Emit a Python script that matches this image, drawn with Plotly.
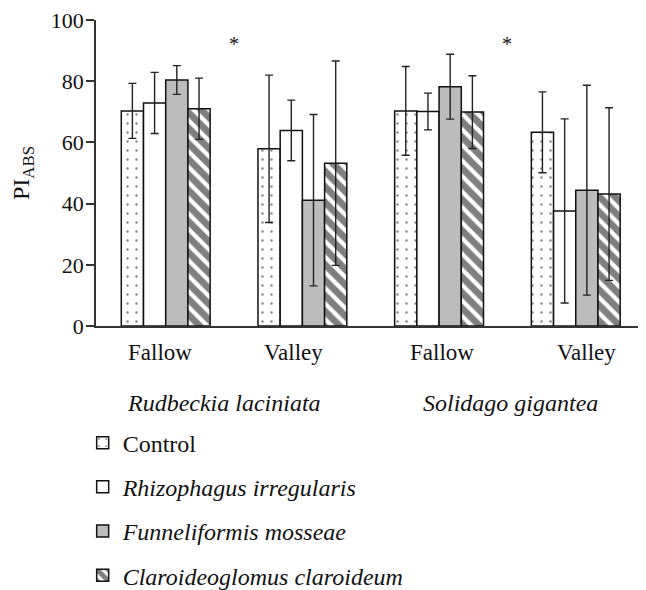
import plotly.graph_objects as go

# ---- data ----
sites = ["Fallow", "Valley", "Fallow", "Valley"]
species = ["Rudbeckia laciniata", "Solidago gigantea"]
series_names = ["Control", "Rhizophagus irregularis", "Funneliformis mosseae", "Claroideoglomus claroideum"]

control = [70.3, 57.9, 70.3, 63.3]
control_err = [9.0, 24.1, 14.5, 13.2]
rhizo = [72.9, 63.9, 70.1, 37.6]
rhizo_err = [10.0, 9.9, 6.0, 30.1]
funnel = [80.4, 41.1, 78.2, 44.4]
funnel_err = [4.7, 28.0, 10.6, 34.3]
claro = [71.0, 53.2, 69.9, 43.1]
claro_err = [10.0, 33.4, 11.9, 28.2]

y_ticks = [0, 20, 40, 60, 80, 100]
asterisk_pos = [0.5, 2.5]
asterisk_y = 92

x = list(range(len(sites)))
FONT = "Liberation Serif, Times New Roman, serif"

styles = [
    dict(marker=dict(color="white", line=dict(color="#111", width=1.5),
                     pattern=dict(shape=".", fgcolor="#111", bgcolor="white", size=9, solidity=0.06))),
    dict(marker=dict(color="white", line=dict(color="#111", width=1.5))),
    dict(marker=dict(color="#bcbcbc", line=dict(color="#111", width=1.5))),
    dict(marker=dict(color="white", line=dict(color="#111", width=1.5),
                     pattern=dict(shape="\\", fgcolor="#000", bgcolor="white", size=11, solidity=0.62))),
]
values = [control, rhizo, funnel, claro]
errors = [control_err, rhizo_err, funnel_err, claro_err]

fig = go.Figure()
for i, (name, v, e, st) in enumerate(zip(series_names, values, errors, styles)):
    label = name if i == 0 else "<i>" + name + "</i>"
    fig.add_trace(go.Bar(
        x=x, y=v, name=label, legendgroup=f"g{i}",
        error_y=dict(type="data", array=e, visible=True, color="#222", thickness=1.4, width=4),
        **st,
    ))

annotations = []
for xi, s in zip(x, sites):
    annotations.append(dict(x=xi, y=-0.085, xref="x", yref="paper", text=s, showarrow=False,
                            font=dict(family=FONT, size=23, color="#111"), yanchor="middle",
                            xshift=[-6, -9, 3, 11][xi]))
for k, sp in enumerate(species):
    annotations.append(dict(x=0.5 + 2 * k, y=-0.252, xref="x", yref="paper", text="<i>" + sp + "</i>",
                            showarrow=False, font=dict(family=FONT, size=24, color="#111"),
                            yanchor="middle", xshift=[-10, 3][k]))
for ax in asterisk_pos:
    annotations.append(dict(x=ax, y=asterisk_y, xref="x", yref="y", text="*", showarrow=False,
                            font=dict(family=FONT, size=20, color="#111")))

fig.update_layout(
    width=638, height=582,
    margin=dict(l=88, r=6, t=12, b=264, autoexpand=False),
    paper_bgcolor="white", plot_bgcolor="white",
    barmode="group", bargap=0.35, bargroupgap=0,
    font=dict(family=FONT, size=20, color="#111"),
    showlegend=True,
    legend=dict(x=-0.0245, y=-0.309, xanchor="left", yanchor="top", orientation="v",
                font=dict(family=FONT, size=24, color="#111"), tracegroupgap=10,
                bgcolor="rgba(0,0,0,0)"),
    xaxis=dict(range=[-0.51, 3.47], showticklabels=False, ticks="", showgrid=False, zeroline=False,
               showline=True, linecolor="#333", linewidth=1.5, tickvals=x),
    yaxis=dict(range=[0, 100], tickvals=y_ticks, ticks="outside", ticklen=8, tickwidth=1.5, tickcolor="#333",
               showgrid=False, zeroline=False, showline=True, linecolor="#333", linewidth=1.5,
               ticklabeloverflow="allow", ticklabelstandoff=-2,
               tickfont=dict(family=FONT, size=22, color="#111"),
               title=dict(text="PI<sub>ABS</sub>", font=dict(family=FONT, size=24, color="#111"), standoff=16)),
    annotations=annotations,
)

fig.write_html("out.html")
